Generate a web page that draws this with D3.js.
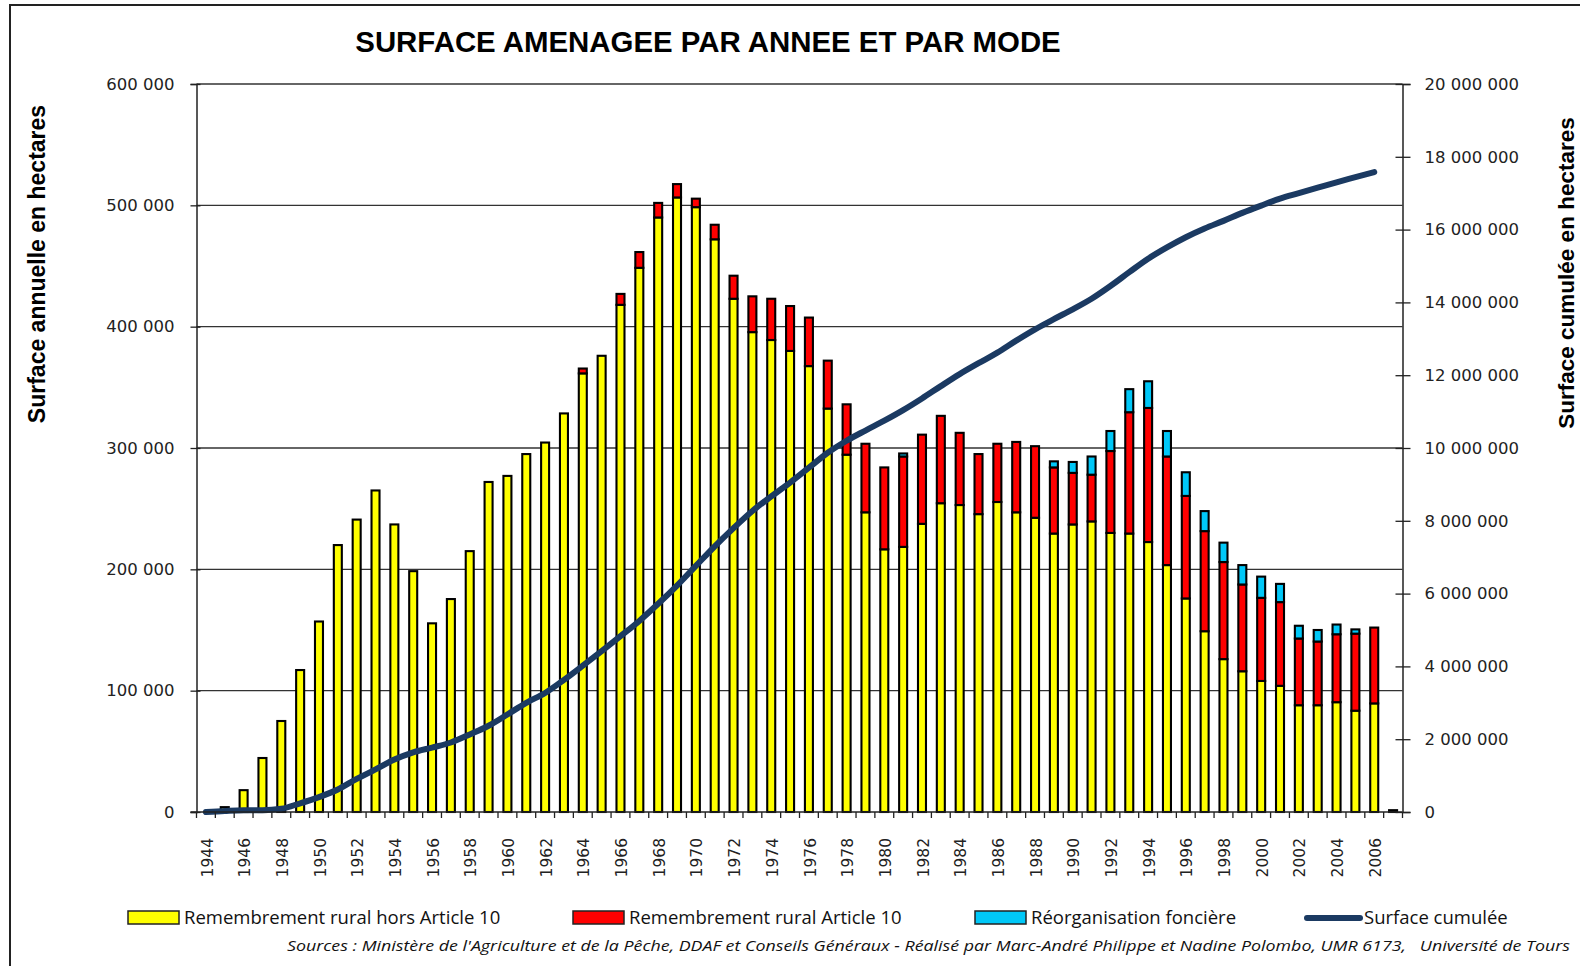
<!doctype html>
<html>
<head>
  <meta charset="utf-8">
  <script src="https://d3js.org/d3.v7.min.js"></script>
  <style>
    body { margin: 0; background: #fff; }
    svg { display: block; }
  </style>
</head>
<body>
<script>
  // years on the x axis (one bar per year)
  var years = [1944, 1945, 1946, 1947, 1948, 1949, 1950, 1951, 1952, 1953, 1954, 1955, 1956, 1957, 1958, 1959,
               1960, 1961, 1962, 1963, 1964, 1965, 1966, 1967, 1968, 1969, 1970, 1971, 1972, 1973, 1974, 1975,
               1976, 1977, 1978, 1979, 1980, 1981, 1982, 1983, 1984, 1985, 1986, 1987, 1988, 1989, 1990, 1991,
               1992, 1993, 1994, 1995, 1996, 1997, 1998, 1999, 2000, 2001, 2002, 2003, 2004, 2005, 2006, 2007];

  // Remembrement rural hors Article 10 (ha)
  var horsArticle10 = [0, 4000, 18000, 44500, 75000, 117000, 157000, 220000, 241000, 265000, 237000, 198500, 155500, 175500, 215000, 272000,
                       277000, 295000, 304500, 328500, 361500, 376000, 418000, 448500, 490000, 506500, 498500, 472000, 423000, 395500, 389000, 380000,
                       367500, 332500, 294500, 247000, 216500, 218500, 237500, 254500, 253000, 245500, 255500, 247000, 242500, 229500, 237000, 239500,
                       230000, 229500, 222500, 203500, 176000, 149000, 126000, 116000, 108000, 104000, 88000, 88000, 90500, 83500, 89500, 1500];

  // Remembrement rural Article 10 (ha)
  var article10 = [0, 0, 0, 0, 0, 0, 0, 0, 0, 0, 0, 0, 0, 0, 0, 0,
                   0, 0, 0, 0, 4000, 0, 9000, 13000, 12000, 11000, 7000, 12000, 19000, 29500, 34000, 37000,
                   40000, 39500, 41500, 56500, 67500, 74500, 73500, 72000, 59500, 49500, 48000, 58000, 59000, 54500, 42500, 38500,
                   67500, 100000, 110500, 89500, 84500, 82500, 80000, 71500, 68500, 69000, 55000, 52500, 56000, 63500, 62500, 0];

  // Réorganisation foncière (ha)
  var reorganisation = [0, 0, 0, 0, 0, 0, 0, 0, 0, 0, 0, 0, 0, 0, 0, 0,
                        0, 0, 0, 0, 0, 0, 0, 0, 0, 0, 0, 0, 0, 0, 0, 0,
                        0, 0, 0, 0, 0, 2500, 0, 0, 0, 0, 0, 0, 0, 5000, 9000, 15000,
                        16500, 19000, 22000, 21000, 19500, 16500, 16000, 16000, 17500, 15000, 10500, 9500, 8000, 3500, 0, 0];

  // Surface cumulée (ha), 1944 to 2006
  var cumulee = [0, 30000, 50000, 50000, 90000, 240000, 410000, 620000, 910000, 1170000, 1440000, 1640000, 1770000, 1910000, 2130000, 2370000,
                 2680000, 3000000, 3270000, 3630000, 4020000, 4420000, 4830000, 5250000, 5720000, 6220000, 6760000, 7300000, 7800000, 8270000, 8670000, 9050000,
                 9460000, 9870000, 10200000, 10480000, 10750000, 11040000, 11360000, 11700000, 12030000, 12330000, 12620000, 12950000, 13260000, 13540000, 13810000, 14100000,
                 14450000, 14830000, 15200000, 15510000, 15790000, 16030000, 16240000, 16460000, 16660000, 16850000, 17000000, 17150000, 17300000, 17440000, 17580000];

  var leftTicks = [0, 100000, 200000, 300000, 400000, 500000, 600000];
  var rightTicks = [0, 2000000, 4000000, 6000000, 8000000, 10000000, 12000000, 14000000, 16000000, 18000000, 20000000];

  var seriesNames = ["Remembrement rural hors Article 10", "Remembrement rural Article 10", "Réorganisation foncière"];
  var seriesColors = ["#ffff00", "#ff0000", "#00c8f8"];
  var lineName = "Surface cumulée";
  var lineColor = "#1b3a62";

  var width = 1580, height = 966;
  var plotLeft = 196.5, plotRight = 1402.5, plotTop = 84, plotBottom = 812;

  var svg = d3.select("body").append("svg")
    .attr("width", width)
    .attr("height", height);

  svg.append("rect").attr("width", width).attr("height", height).attr("fill", "#fff");
  // outer frame
  svg.append("rect")
    .attr("x", 10).attr("y", 5)
    .attr("width", 1600).attr("height", 1000)
    .attr("fill", "none").attr("stroke", "#222").attr("stroke-width", 2);

  var x = d3.scaleBand().domain(years).range([plotLeft, plotRight]).padding(0);
  var y = d3.scaleLinear().domain([0, 600000]).range([plotBottom, plotTop]);
  var y2 = d3.scaleLinear().domain([0, 20000000]).range([plotBottom, plotTop]);

  var fmt = function(d) { return d3.format(",")(d).replace(/,/g, " "); };

  // gridlines (including the top border of the plot)
  svg.append("g").selectAll("line")
    .data(leftTicks.slice(1))
    .enter().append("line")
    .attr("x1", plotLeft).attr("x2", plotRight)
    .attr("y1", function(d) { return y(d); })
    .attr("y2", function(d) { return y(d); })
    .attr("stroke", "#333").attr("stroke-width", 1.3);

  // stacked bars
  var rows = years.map(function(yr, i) {
    return { year: yr, a: horsArticle10[i], b: article10[i], c: reorganisation[i] };
  });
  var stack = d3.stack().keys(["a", "b", "c"])(rows);
  var barW = 8;

  svg.append("g").selectAll("g")
    .data(stack)
    .enter().append("g")
    .attr("fill", function(d, i) { return seriesColors[i]; })
    .selectAll("rect")
    .data(function(d) { return d.filter(function(p) { return p[1] - p[0] > 0; }); })
    .enter().append("rect")
    .attr("x", function(d) { return x(d.data.year) + x.bandwidth() / 2 - barW / 2; })
    .attr("width", barW)
    .attr("y", function(d) { return y(d[1]); })
    .attr("height", function(d) { return y(d[0]) - y(d[1]); })
    .attr("stroke", "#000").attr("stroke-width", 2.1);

  // cumulative line
  var line = d3.line()
    .x(function(d, i) { return x(years[i]) + x.bandwidth() / 2; })
    .y(function(d) { return y2(d); })
    .curve(d3.curveMonotoneX);

  svg.append("path")
    .datum(cumulee)
    .attr("d", line)
    .attr("fill", "none")
    .attr("stroke", lineColor)
    .attr("stroke-width", 6)
    .attr("stroke-linecap", "round");

  function styleAxis(g) {
    g.select(".domain").attr("stroke", "#222").attr("stroke-width", 1.5);
    g.selectAll(".tick line").attr("stroke", "#222").attr("stroke-width", 1.3);
    g.selectAll(".tick text")
      .attr("font-family", "DejaVu Sans")
      .attr("font-size", 16.5)
      .attr("fill", "#222");
  }

  // left axis
  var leftAxis = d3.axisLeft(y).tickValues(leftTicks).tickFormat(fmt).tickSizeOuter(0).tickSize(6).tickPadding(16);
  var gl = svg.append("g").attr("transform", "translate(" + plotLeft + ",0)").call(leftAxis);
  gl.selectAll(".tick line").attr("x2", -6).attr("x1", 4);
  styleAxis(gl);

  // right axis
  var rightAxis = d3.axisRight(y2).tickValues(rightTicks).tickFormat(fmt).tickSizeOuter(0).tickSize(8).tickPadding(14);
  var gr = svg.append("g").attr("transform", "translate(" + plotRight + ",0)").call(rightAxis);
  gr.selectAll(".tick line").attr("x1", -7).attr("x2", 8);
  styleAxis(gr);

  // x axis
  var xAxis = d3.axisBottom(x).tickSize(0).tickFormat("");
  var gx = svg.append("g").attr("transform", "translate(0," + plotBottom + ")").call(xAxis);
  gx.select(".domain").attr("stroke", "#222").attr("stroke-width", 1.5).attr("d", "M" + (plotLeft - 6) + ",0H" + plotRight);
  gx.selectAll(".tick").remove();
  gx.selectAll("line.bound")
    .data(years.concat([null]))
    .enter().append("line")
    .attr("class", "bound")
    .attr("x1", function(d, i) { return plotLeft + i * x.bandwidth(); })
    .attr("x2", function(d, i) { return plotLeft + i * x.bandwidth(); })
    .attr("y1", 0).attr("y2", 6)
    .attr("stroke", "#222").attr("stroke-width", 1.3);

  svg.append("g").selectAll("text")
    .data(years.filter(function(d) { return d % 2 === 0; }))
    .enter().append("text")
    .attr("transform", function(d) { return "translate(" + (x(d) + x.bandwidth() / 2 + 1) + "," + 838 + ") rotate(-90)"; })
    .attr("text-anchor", "end")
    .attr("dy", "0.36em")
    .attr("font-family", "DejaVu Sans")
    .attr("font-size", 15.5)
    .attr("fill", "#222")
    .text(function(d) { return d; });

  // title
  svg.append("text")
    .attr("x", 708).attr("y", 52)
    .attr("text-anchor", "middle")
    .attr("font-family", "Liberation Sans, Arial, sans-serif")
    .attr("font-weight", "bold")
    .attr("font-size", 29.4)
    .attr("fill", "#000")
    .text("SURFACE AMENAGEE PAR ANNEE ET PAR MODE");

  // axis titles
  svg.append("text")
    .attr("transform", "translate(45,264) rotate(-90)")
    .attr("text-anchor", "middle")
    .attr("font-family", "Liberation Sans, Arial, sans-serif")
    .attr("font-weight", "bold")
    .attr("font-size", 23)
    .text("Surface annuelle en hectares");

  svg.append("text")
    .attr("transform", "translate(1574,273) rotate(-90)")
    .attr("text-anchor", "middle")
    .attr("font-family", "Liberation Sans, Arial, sans-serif")
    .attr("font-weight", "bold")
    .attr("font-size", 22.5)
    .text("Surface cumulée en hectares");

  // legend
  var legendX = [128, 573, 975];
  var legend = svg.append("g");
  seriesNames.forEach(function(name, i) {
    legend.append("rect")
      .attr("x", legendX[i]).attr("y", 911)
      .attr("width", 51).attr("height", 13)
      .attr("fill", seriesColors[i])
      .attr("stroke", "#222").attr("stroke-width", 1.5);
    legend.append("text")
      .attr("x", legendX[i] + 56).attr("y", 924)
      .attr("font-family", "Open Sans, sans-serif")
      .attr("font-size", 18.5)
      .attr("fill", "#111")
      .text(name);
  });
  legend.append("line")
    .attr("x1", 1307).attr("x2", 1360)
    .attr("y1", 918).attr("y2", 918)
    .attr("stroke", lineColor).attr("stroke-width", 6).attr("stroke-linecap", "round");
  legend.append("text")
    .attr("x", 1364).attr("y", 924)
    .attr("font-family", "Open Sans, sans-serif")
    .attr("font-size", 18.5)
    .attr("fill", "#111")
    .text(lineName);

  // sources
  svg.append("text")
    .attr("x", 1570).attr("y", 951)
    .attr("text-anchor", "end")
    .attr("font-family", "Open Sans, sans-serif")
    .attr("font-style", "italic")
    .attr("font-size", 15)
    .attr("fill", "#111")
    .attr("textLength", 1283)
    .attr("lengthAdjust", "spacingAndGlyphs")
    .attr("xml:space", "preserve")
    .text("Sources : Ministère de l'Agriculture et de la Pêche, DDAF et Conseils Généraux - Réalisé par Marc-André Philippe et Nadine Polombo, UMR 6173,   Université de Tours");
</script>
</body>
</html>
